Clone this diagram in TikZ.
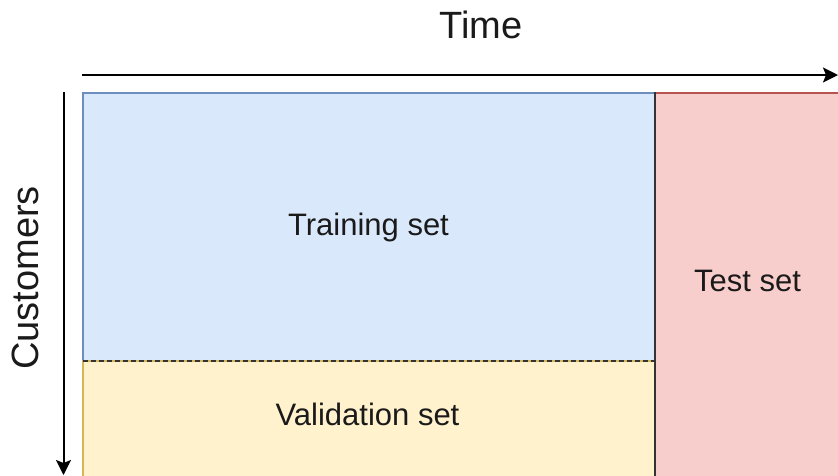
\documentclass[tikz,border=0pt]{standalone}
\usepackage{fontspec}
\setmainfont{Liberation Sans}
\usetikzlibrary{arrows.meta}

\definecolor{trainfill}{HTML}{DAE8FC}
\definecolor{trainline}{HTML}{6C8EBF}
\definecolor{valfill}{HTML}{FFF2CC}
\definecolor{valline}{HTML}{D6B656}
\definecolor{testfill}{HTML}{F8CECC}
\definecolor{testline}{HTML}{B85450}
\definecolor{divider}{HTML}{333333}
\definecolor{labeltext}{HTML}{1A1A1A}

\tikzset{
  region/.style={rectangle, inner sep=0pt, outer sep=0pt, anchor=north west, line width=2pt},
  axisarrow/.style={line width=2pt, -{Stealth[length=15pt, width=15pt, inset=3pt]}},
  bigtext/.style={font=\fontsize{38}{40}\selectfont, text=labeltext, inner sep=0pt},
  settext/.style={font=\fontsize{31}{33}\selectfont, text=labeltext, inner sep=0pt, anchor=base},
}

\begin{document}
\begin{tikzpicture}[x=1pt, y=-1pt]
\useasboundingbox (0,0) rectangle (838,475);
\clip (0,0) rectangle (838,475);

% data regions
\node[region, draw=trainline, fill=trainfill, minimum width=572.5pt, minimum height=268.5pt] (train) at (82.5,92.5) {};
\node[region, draw=valline, fill=valfill, minimum width=572.5pt, minimum height=130pt] (val) at (82.5,361) {};
\node[region, draw=testline, fill=testfill, minimum width=200pt, minimum height=400pt] (test) at (655,92.5) {};

% boundaries between the regions
\coordinate (divtop) at (655,92);
\coordinate (divbot) at (655,480);
\draw[divider, line width=2.5pt] (divtop) -- (divbot);
\coordinate (splitl) at (82.5,361);
\coordinate (splitr) at (654,361);
\draw[divider, line width=2pt, dash pattern=on 5pt off 3pt] (splitl) -- (splitr);

% axes
\coordinate (t0) at (82,75);
\coordinate (t1) at (838,75);
\draw[axisarrow] (t0) -- (t1);
\coordinate (c0) at (63.5,92);
\coordinate (c1) at (63.5,475);
\draw[axisarrow] (c0) -- (c1);

% labels
\node[bigtext, anchor=base] (timelbl) at (481,38.3) {Time};
\node[bigtext, anchor=base, rotate=90] (custlbl) at (38.5,278) {Customers};
\node[settext] (trainlbl) at (368.5,235) {Training set};
\node[settext] (vallbl) at (367.5,425) {Validation set};
\node[settext] (testlbl) at (747.5,291.5) {Test set};
\end{tikzpicture}
\end{document}
